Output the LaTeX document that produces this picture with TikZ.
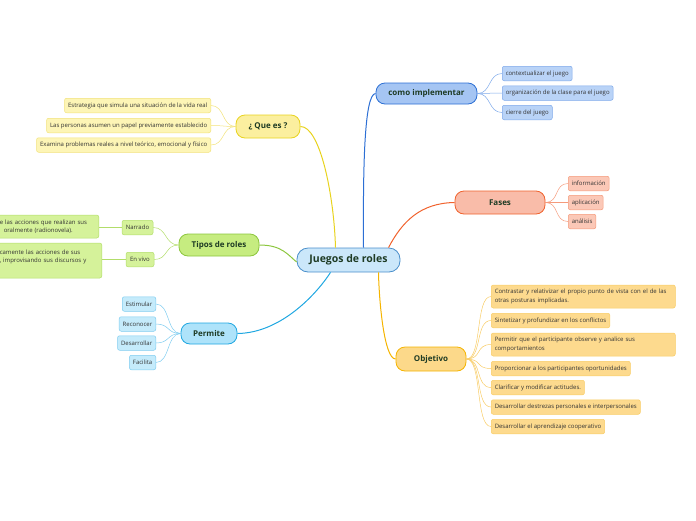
\documentclass[tikz,border=0pt]{standalone}
\usepackage{fontspec}
\setmainfont{Open Sans}
\usepackage{tikz}
\usetikzlibrary{arrows}

\definecolor{headtxt}{HTML}{1E3B24}
\definecolor{leaftxt}{HTML}{333333}
\definecolor{mainfill}{HTML}{CBE7FA}
\definecolor{mainline}{HTML}{4A8FCB}
\definecolor{yelfill}{HTML}{FBEF9F}
\definecolor{yelline}{HTML}{E8D31E}
\definecolor{yelleaf}{HTML}{FDF5B6}
\definecolor{yelleafl}{HTML}{F2E27A}
\definecolor{grnfill}{HTML}{C6EC80}
\definecolor{grnline}{HTML}{8CC63E}
\definecolor{grnleaf}{HTML}{D5F29A}
\definecolor{grnleafl}{HTML}{B2DD6A}
\definecolor{cyafill}{HTML}{AEE3FA}
\definecolor{cyaline}{HTML}{1FA7E1}
\definecolor{cyaleaf}{HTML}{C5EBFB}
\definecolor{cyaleafl}{HTML}{7FCDF0}
\definecolor{blufill}{HTML}{A5C5F3}
\definecolor{bluline}{HTML}{2C6FD4}
\definecolor{bluleaf}{HTML}{B9D3F7}
\definecolor{bluleafl}{HTML}{7EA9EA}
\definecolor{orafill}{HTML}{F9BCA9}
\definecolor{oraline}{HTML}{F0622D}
\definecolor{oraleaf}{HTML}{FBC8B7}
\definecolor{oraleafl}{HTML}{F59A7B}
\definecolor{gldfill}{HTML}{FCD98A}
\definecolor{gldline}{HTML}{F5B400}
\definecolor{gldleaf}{HTML}{FDDA8E}
\definecolor{gldleafl}{HTML}{F8CC66}

\tikzset{
  topic/.style={draw, rounded corners=9pt, line width=0.8pt, minimum height=22pt,
    inner sep=2pt, text=headtxt, font=\fontsize{8}{9}\selectfont\bfseries},
  leaf/.style={draw, rounded corners=2pt, line width=0.5pt, minimum height=14.5pt,
    inner xsep=3.5pt, inner ysep=2pt, text=leaftxt, font=\fontsize{6}{8.5}\selectfont},
  branch/.style={line width=1pt},
  twig/.style={line width=0.5pt},
}

\begin{document}
\begin{tikzpicture}[x=1pt,y=-1pt]
\useasboundingbox (0,0) rectangle (696,520);
\clip (0,0) rectangle (696,520);

% centre
\node [topic, fill=mainfill, draw=mainline, minimum width=103pt, minimum height=24pt,
  rounded corners=11pt, font=\fontsize{10.5}{12}\selectfont\bfseries] (main) at (348.5,260) {Juegos de roles};

% main topics
\node [topic, fill=yelfill, draw=yelline, minimum width=64pt, minimum height=23pt] (quees) at (268,126.5) {¿ Que es ?};
\node [topic, fill=grnfill, draw=grnline, minimum width=80pt] (tipos) at (219,245) {Tipos de roles};
\node [topic, fill=cyafill, draw=cyaline, minimum width=56pt, minimum height=21pt] (permite) at (209,333.5) {Permite};
\node [topic, fill=blufill, draw=bluline, minimum width=101pt, minimum height=21pt] (como) at (426.5,93.5) {como implementar};
\node [topic, fill=orafill, draw=oraline, minimum width=90pt, minimum height=23pt] (fases) at (500,202.5) {Fases};
\node [topic, fill=gldfill, draw=gldline, minimum width=70pt, minimum height=24pt] (objetivo) at (431,359) {Objetivo};

% branches from the centre
\draw [branch, yelline] (quees.east) .. controls (320,126) and (334,195) .. ([xshift=-13pt]main.north);
\draw [branch, grnline] (tipos.east) .. controls (282,245) and (288,255) .. ([yshift=-2pt]main.west);
\draw [branch, cyaline] (permite.east) .. controls (282,333) and (318,292) .. ([xshift=-18pt]main.south);
\draw [branch, bluline] (como.west) .. controls (364,94) and (363,170) .. ([xshift=15pt]main.north);
\draw [branch, oraline] (fases.west) .. controls (420,203) and (402,222) .. ([xshift=40pt]main.north);
\draw [branch, gldline] (objetivo.west) .. controls (384,359) and (379,300) .. ([xshift=30pt]main.south);

% que es
\node [leaf, fill=yelleaf, draw=yelleafl, anchor=east] (q1) at (211,105.5) {Estrategia que simula una situación de la vida real};
\node [leaf, fill=yelleaf, draw=yelleafl, anchor=east] (q2) at (211,125.5) {Las personas asumen un papel previamente establecido};
\node [leaf, fill=yelleaf, draw=yelleafl, anchor=east] (q3) at (211,145) {Examina problemas reales a nivel teórico, emocional y físico};
\foreach \k in {q1,q2,q3}
  \draw [twig, yelleafl] (quees.west) .. controls +(-14,0) and +(14,0) .. (\k.east);

% tipos de roles
\node [leaf, fill=grnleaf, draw=grnleafl, minimum width=31pt] (narrado) at (137.5,227.5) {Narrado};
\node [leaf, fill=grnleaf, draw=grnleafl, minimum width=28pt] (envivo) at (140,259.5) {En vivo};
\node [leaf, fill=grnleaf, draw=grnleafl, anchor=east, minimum height=23pt, text width=95.5pt, align=left] (narradotxt) at (99,226.5)
  {e las acciones que realizan sus\\\hspace*{4pt}oralmente (radionovela).};
\node [leaf, fill=grnleaf, draw=grnleafl, anchor=east, minimum height=35pt, text width=98.5pt, align=left] (envivotxt) at (102,260.5)
  {camente las acciones de sus\\, improvisando sus discursos y\\\mbox{}};
\draw [twig, grnleafl] (tipos.west) .. controls +(-14,0) and +(14,0) .. (narrado.east);
\draw [twig, grnleafl] (tipos.west) .. controls +(-14,0) and +(14,0) .. (envivo.east);
\draw [twig, grnleafl] (narrado.west) -- (narrado.west -| narradotxt.east);
\draw [twig, grnleafl] (envivo.west) -- (envivo.west -| envivotxt.east);

% permite
\node [leaf, fill=cyaleaf, draw=cyaleafl, anchor=east] (p1) at (156,304) {Estimular};
\node [leaf, fill=cyaleaf, draw=cyaleafl, anchor=east] (p2) at (156,324) {Reconocer};
\node [leaf, fill=cyaleaf, draw=cyaleafl, anchor=east] (p3) at (156,343) {Desarrollar};
\node [leaf, fill=cyaleaf, draw=cyaleafl, anchor=east] (p4) at (156,362.5) {Facilita};
\foreach \k in {p1,p2,p3,p4}
  \draw [twig, cyaleafl] (permite.west) .. controls +(-14,0) and +(14,0) .. (\k.east);

% como implementar
\node [leaf, fill=bluleaf, draw=bluleafl, anchor=west] (c1) at (502,73.5) {contextualizar el juego};
\node [leaf, fill=bluleaf, draw=bluleafl, anchor=west] (c2) at (502,93) {organización de la clase para el juego};
\node [leaf, fill=bluleaf, draw=bluleafl, anchor=west] (c3) at (502,112.5) {cierre del juego};
\foreach \k in {c1,c2,c3}
  \draw [twig, bluleafl] (como.east) .. controls +(14,0) and +(-14,0) .. (\k.west);

% fases
\node [leaf, fill=oraleaf, draw=oraleafl, anchor=west] (f1) at (568,183.5) {información};
\node [leaf, fill=oraleaf, draw=oraleafl, anchor=west] (f2) at (568,202.5) {aplicación};
\node [leaf, fill=oraleaf, draw=oraleafl, anchor=west] (f3) at (568,221.5) {análisis};
\foreach \k in {f1,f2,f3}
  \draw [twig, oraleafl] (fases.east) .. controls +(14,0) and +(-14,0) .. (\k.west);

% objetivo
\node [leaf, fill=gldleaf, draw=gldleafl, anchor=west, text width=177pt, minimum height=23pt, align=left] (o1) at (491,296.5)
  {Contrastar y relativizar el propio punto de vista con el de las\\otras posturas implicadas.};
\node [leaf, fill=gldleaf, draw=gldleafl, anchor=west] (o2) at (491,320.5) {Sintetizar y profundizar en los conflictos};
\node [leaf, fill=gldleaf, draw=gldleafl, anchor=west, text width=177pt, minimum height=23pt, align=left] (o3) at (491,344.5)
  {Permitir que el participante observe y analice sus\\comportamientos};
\node [leaf, fill=gldleaf, draw=gldleafl, anchor=west] (o4) at (491,368.5) {Proporcionar a los participantes oportunidades};
\node [leaf, fill=gldleaf, draw=gldleafl, anchor=west] (o5) at (491,387.5) {Clarificar y modificar actitudes.};
\node [leaf, fill=gldleaf, draw=gldleafl, anchor=west] (o6) at (491,407) {Desarrollar destrezas personales e interpersonales};
\node [leaf, fill=gldleaf, draw=gldleafl, anchor=west] (o7) at (491,426.5) {Desarrollar el aprendizaje cooperativo};
\foreach \k in {o1,o2,o3,o4,o5,o6,o7}
  \draw [twig, gldleafl] (objetivo.east) .. controls +(16,0) and +(-16,0) .. (\k.west);

\end{tikzpicture}
\end{document}
